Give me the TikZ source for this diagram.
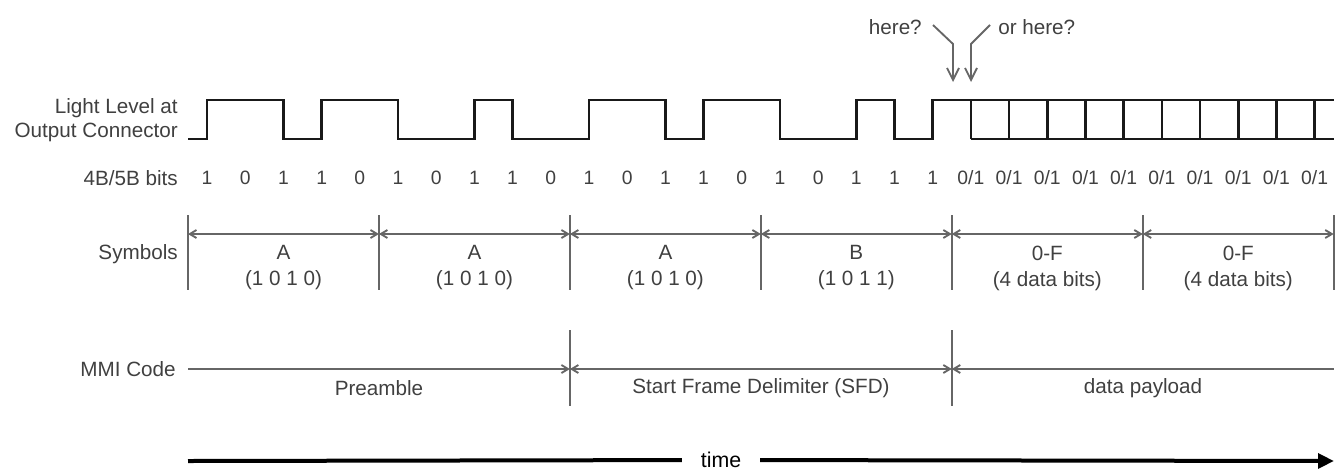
\documentclass[tikz,border=0pt]{standalone}
\usepackage{fontspec}
\setmainfont{Liberation Sans}
\usetikzlibrary{positioning}
\usetikzlibrary{arrows.meta}

\begin{document}
\begin{tikzpicture}[x = 0.75pt, y = -0.75pt,
txt/.style = {font = \fontsize{15.5}{18}\selectfont, text = black!75, inner sep = 0pt},
rowname/.style = {txt, anchor = east, align = right},
bitlbl/.style = {txt, font = \fontsize{14.5}{16}\selectfont},
symlbl/.style = {txt, align = center, font = \fontsize{15.5}{19.5}\selectfont},
wave/.style = {line width = 2pt, black!90},
bnd/.style = {line width = 1.4pt, black!60},
span/.style = {bnd, {Straight Barb[length = 5pt, width = 6pt]}-{Straight Barb[length = 5pt, width = 6pt]}},
spanr/.style = {bnd, -{Straight Barb[length = 5pt, width = 6pt]}},
spanl/.style = {bnd, {Straight Barb[length = 5pt, width = 6pt]}-},
pointer/.style = {bnd, -{Straight Barb[length = 9pt, width = 9pt]}},
timeline/.style = {line width = 3pt, black},
]
\useasboundingbox (0, 0) rectangle (1338, 472);

% row heights
\coordinate (hi) at (0, 100);
\coordinate (lo) at (0, 139);
\coordinate (symtop) at (0, 215);
\coordinate (symarr) at (0, 234);
\coordinate (symbot) at (0, 290);
\coordinate (mmitop) at (0, 330);
\coordinate (mmiline) at (0, 369);
\coordinate (mmibot) at (0, 406);

% symbol boundaries
\foreach \i in {0,...,6}
  \coordinate (b\i) at ({188 + 190.95*\i}, 0);

% row names
\node[rowname] (light) at (178, 120) {Light Level at\\Output Connector};
\node[rowname] (bits) at (178, 178) {4B/5B bits};
\node[rowname] (sym) at (178, 254) {Symbols};
\node[rowname] (mmi) at (176, 369) {MMI Code};

% 4B/5B bits
\foreach \b [count = \k] in {1,0,1,1,0,1,0,1,1,0,1,0,1,1,0,1,0,1,1,1}
  \node[bitlbl] (bit\k) at ({188 + 38.19*(\k - 0.5)}, 178) {\b};
\foreach \k in {21,...,30}
  \node[bitlbl] (bit\k) at ({188 + 38.19*(\k - 0.5)}, 178) {0/1};

% light level
\draw[wave] (b0 |- lo) -| (bit1 |- hi) -| (bit3 |- lo) -| (bit4 |- hi)
  -| (bit6 |- lo) -| (bit8 |- hi) -| (bit9 |- lo) -| (bit11 |- hi)
  -| (bit13 |- lo) -| (bit14 |- hi) -| (bit16 |- lo) -| (bit18 |- hi)
  -| (bit19 |- lo) -| (bit20 |- hi) -- (b6 |- hi);
\draw[wave] (bit21 |- lo) -- (b6 |- lo);
\foreach \k in {21,...,30}
  \draw[wave] (bit\k |- hi) -- (bit\k |- lo);

% here? or here?
\node[txt, anchor = east] (here1) at (922, 27) {here?};
\node[txt, anchor = west] (here2) at (998, 27) {or here?};
\coordinate (h1) at (933, 25);
\coordinate (h2) at (990, 25);
\coordinate (tip1) at (953, 82);
\coordinate (tip2) at (971, 82);
\draw[pointer] (h1) -- (953, 44) -- (tip1);
\draw[pointer] (h2) -- (971, 44) -- (tip2);

% symbols
\foreach \i in {0,...,6}
  \draw[bnd] (b\i |- symtop) -- (b\i |- symbot);
\foreach \i in {0,...,5} {
  \pgfmathtruncatemacro\j{\i + 1}
  \draw[span] (b\i |- symarr) -- (b\j |- symarr);
}
\foreach \i/\nm/\code in {0/A/(1 0 1 0), 1/A/(1 0 1 0), 2/A/(1 0 1 0), 3/B/(1 0 1 1), 4/0-F/(4 data bits), 5/0-F/(4 data bits)}
  \node[symlbl] (sym\i) at ({283.5 + 190.95*\i}, 268) {\nm\\\code};

% MMI code
\draw[bnd] (b2 |- mmitop) -- (b2 |- mmibot);
\draw[bnd] (b4 |- mmitop) -- (b4 |- mmibot);
\draw[spanr] (b0 |- mmiline) -- (b2 |- mmiline);
\draw[span] (b2 |- mmiline) -- (b4 |- mmiline);
\draw[spanl] (b4 |- mmiline) -- (b6 |- mmiline);
\node[txt] (pre) at (379, 388) {Preamble};
\node[txt] (sfd) at (761, 388) {Start Frame Delimiter (SFD)};
\node[txt] (pay) at (1143, 388) {data payload};

% time
\coordinate (tstart) at (188, 461);
\coordinate (tend) at (1334, 461);
\node[font = \fontsize{16}{18}\selectfont, inner xsep = 14pt, inner ysep = 0pt] (time) at (721, 460) {time};
\draw[timeline] (tstart) -- (time);
\draw[timeline, -{Triangle[length = 12pt, width = 11pt]}] (time) -- (tend);
\end{tikzpicture}
\end{document}
